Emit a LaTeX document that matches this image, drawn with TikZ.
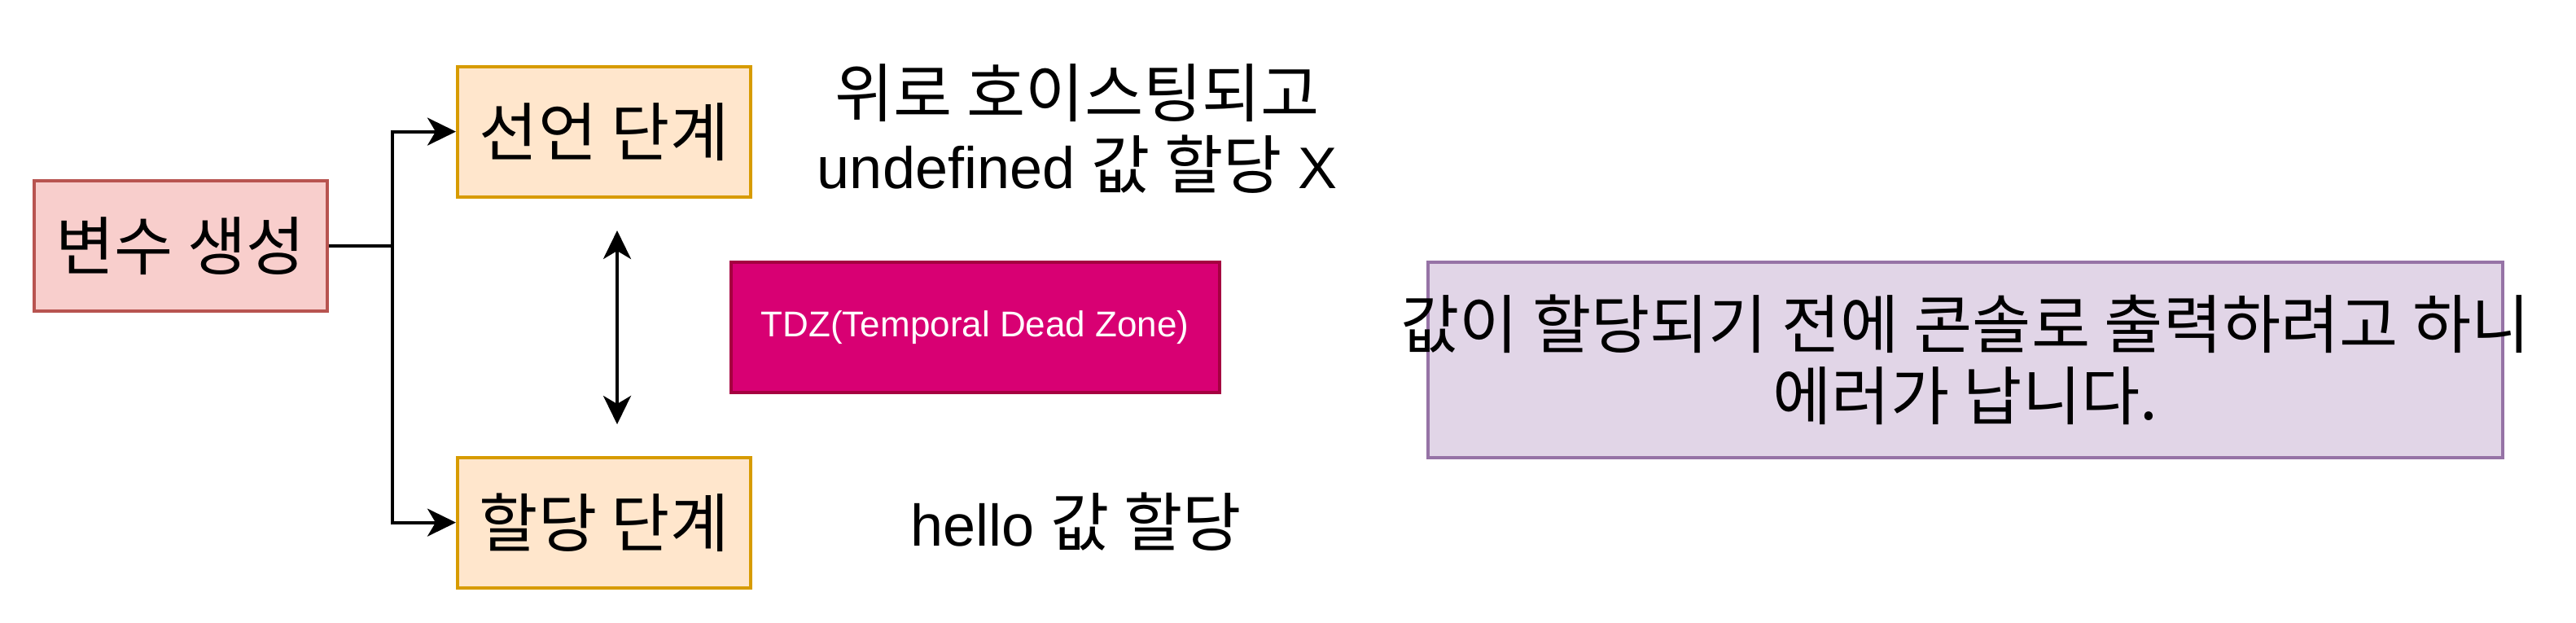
\documentclass[tikz,border=0pt]{standalone}
\usepackage{fontspec}
\setmainfont{Liberation Sans}
\newfontfamily\kr[Scale=1.09]{Noto Sans CJK KR}
\usetikzlibrary{arrows.meta}

\definecolor{varfill}{HTML}{F8CECC}
\definecolor{varline}{HTML}{B85450}
\definecolor{stagefill}{HTML}{FFE6CC}
\definecolor{stageline}{HTML}{D79B00}
\definecolor{tdzfill}{HTML}{D80073}
\definecolor{tdzline}{HTML}{A50040}
\definecolor{errfill}{HTML}{E1D5E7}
\definecolor{errline}{HTML}{9673A6}

\begin{document}
\begin{tikzpicture}[x=1pt, y=-1pt,
  box/.style={line width=1pt, inner sep=0pt, minimum width=90pt, minimum height=40pt},
  bigtext/.style={font=\fontsize{18}{22}\selectfont, align=center, inner sep=0pt},
  tip/.tip={Stealth[length=8.75pt, width=8.5pt, inset=2.5pt]},
  arr/.style={line width=1pt, -tip},
  twoway/.style={line width=1pt, tip-tip}]
\useasboundingbox (0,0) rectangle (791,191);

%boxes
\node[box, draw=varline, fill=varfill, bigtext] (var) at (55.4,75.6) {\kr 변수 생성};
\node[box, draw=stageline, fill=stagefill, bigtext] (decl) at (185.5,40.4) {\kr 선언 단계};
\node[box, draw=stageline, fill=stagefill, bigtext] (assign) at (185.5,160.4) {\kr 할당 단계};
\node[box, draw=tdzline, fill=tdzfill, minimum width=150pt, text=white, font=\fontsize{11}{13}\selectfont] (tdz) at (299.4,100.4) {TDZ(Temporal Dead Zone)};
\node[box, draw=errline, fill=errfill, minimum width=330pt, minimum height=60pt] (errbox) at (603.5,110.5) {};

%texts
\node[bigtext] (hoist) at (330.8,39.6) {{\kr 위로 호이스팅되고}\\undefined {\kr 값 할당} X};
\node[bigtext] (hello) at (330.5,160.2) {hello {\kr 값 할당}};
\node[bigtext] (errmsg) at (errbox.center) {\kr 값이 할당되기 전에 콘솔로 출력하려고 하니\\\kr 에러가 납니다.};

%connectors
\coordinate (split) at (120.4,75.6);
\draw[arr] (var.east) -- (split) |- (decl.west);
\draw[arr] (split) |- (assign.west);

%tdz arrow
\coordinate (tdztop) at (189.5,70.75);
\coordinate (tdzbot) at (189.5,130.25);
\draw[twoway] (tdztop) -- (tdzbot);

\end{tikzpicture}
\end{document}
